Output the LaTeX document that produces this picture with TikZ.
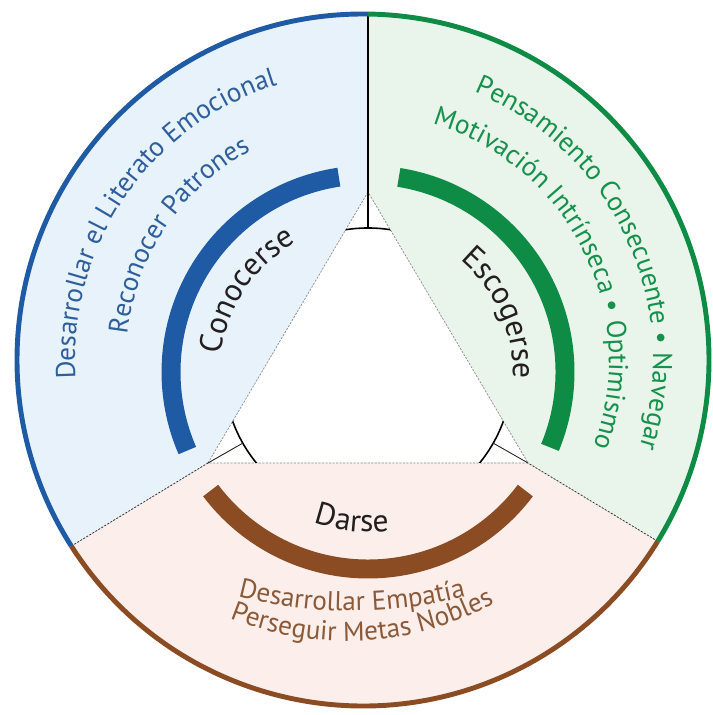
\documentclass[tikz,border=0pt]{standalone}
\usepackage{fontspec}
\setmainfont{PT Sans}
\usetikzlibrary{decorations.text}
\definecolor{blueline}{HTML}{1F5AA5}
\definecolor{greenline}{HTML}{0E8B45}
\definecolor{brownline}{HTML}{8B4C24}
\definecolor{bluefill}{HTML}{E8F2FA}
\definecolor{greenfill}{HTML}{E9F4EB}
\definecolor{pinkfill}{HTML}{FCEEEA}
\definecolor{bluetext}{HTML}{2E5E9C}
\definecolor{greentext}{HTML}{16914B}
\definecolor{browntext}{HTML}{8C5A38}
\definecolor{darktext}{HTML}{231F20}
\newcommand\outerf{\fontsize{15.5}{18}\selectfont}
\newcommand\innerf{\fontsize{18}{21}\selectfont}
\begin{document}
\begin{tikzpicture}[x=0.02cm,y=0.02cm,
  rim/.style={line width=2.8pt},
  band/.style={line width=10.8pt},
  sideline/.style={line width=0.4pt,black!45,dash pattern=on 1.2pt off 0.8pt},
  divider/.style={line width=0.45pt,black!80,dash pattern=on 1.2pt off 0.8pt},
  spoke/.style={line width=0.5pt,black!85},
  arctext/.style={decorate,decoration={text along path,text align=center,#1}}]
\useasboundingbox (0,0) rectangle (712,715);
\fill[white] (0,0) rectangle (712,715);
\coordinate (O) at (363,355);
\coordinate (T) at (368,343);
\coordinate (U1) at (352,554);
\coordinate (U2) at (346,384);
\coordinate (A) at (368,523);
\coordinate (BL) at (208,252);
\coordinate (BR) at (528,252);
\path (O) ++(89.17:346) coordinate (P1);
\path (O) ++(212.54:346) coordinate (P2);
\path (O) ++(328.40:346) coordinate (P3);
\path (T) ++(90:144) coordinate (I1);
\path (T) ++(209.6:144) coordinate (I2);
\path (T) ++(-29.6:144) coordinate (I3);
\fill[bluefill] (A) -- (P1) arc[start angle=89.17,end angle=212.54,radius=346] -- (BL) -- cycle;
\fill[greenfill] (A) -- (P1) arc[start angle=89.17,end angle=-31.60,radius=346] -- (BR) -- cycle;
\fill[pinkfill] (BL) -- (P2) arc[start angle=212.54,end angle=328.40,radius=346] -- (BR) -- cycle;
\draw[sideline] (A) -- (BL) -- (BR) -- cycle;
\begin{scope}
\clip (A) -- (BL) -- (BR) -- cycle;
\draw[line width=0.9pt] (T) circle[radius=144];
\end{scope}
\draw[line width=1pt] (P1) -- (I1);
\draw[divider] (P2) -- (BL);
\draw[spoke] (BL) -- (I2);
\draw[divider] (P3) -- (BR);
\draw[spoke] (BR) -- (I3);
\draw[rim,blueline] (P1) arc[start angle=89.17,end angle=212.54,radius=346];
\draw[rim,greenline] (P1) arc[start angle=89.17,end angle=-31.60,radius=346];
\draw[rim,brownline] (P2) arc[start angle=212.54,end angle=328.40,radius=346];
\draw[band,blueline] (T) ++(98.5:197) arc[start angle=98.5,end angle=203.5,radius=197];
\draw[band,greenline] (T) ++(81:197) arc[start angle=81,end angle=-22.5,radius=197];
\draw[band,brownline] (T) ++(217:197) arc[start angle=217,end angle=323,radius=197];
\path[arctext={text={|\outerf|Desarrollar el Literato Emocional},text color=bluetext}]
  (O) ++(224:288) arc[start angle=224,end angle=67,radius=288];
\path[arctext={text={|\outerf|Reconocer Patrones},text color=bluetext}]
  (O) ++(216:237) arc[start angle=216,end angle=76,radius=237];
\path[arctext={text={|\innerf|Conocerse},text color=darktext}]
  (T) ++(211:148) arc[start angle=211,end angle=81,radius=148];
\path[arctext={text={|\outerf|Pensamiento Consecuente • Navegar},text color=greentext}]
  (O) ++(105:290) arc[start angle=105,end angle=-55,radius=290];
\path[arctext={text={|\outerf|Motivación Intrínseca • Optimismo},text color=greentext}]
  (O) ++(106.5:246) arc[start angle=106.5,end angle=-53.5,radius=246];
\path[arctext={text={|\innerf|Escogerse},text color=darktext}]
  (T) ++(89:145) arc[start angle=89,end angle=-41,radius=145];
\path[arctext={text={|\innerf|Darse},text color=darktext}]
  (T) ++(214:160) arc[start angle=214,end angle=314,radius=160];
\path[arctext={text={|\outerf|Desarrollar Empatía},text color=browntext}]
  (U1) ++(240:450) arc[start angle=240,end angle=300,radius=450];
\path[arctext={text={|\outerf|Perseguir Metas Nobles},text color=browntext}]
  (U2) ++(238.3:310) arc[start angle=238.3,end angle=308.3,radius=310];
\end{tikzpicture}
\end{document}
